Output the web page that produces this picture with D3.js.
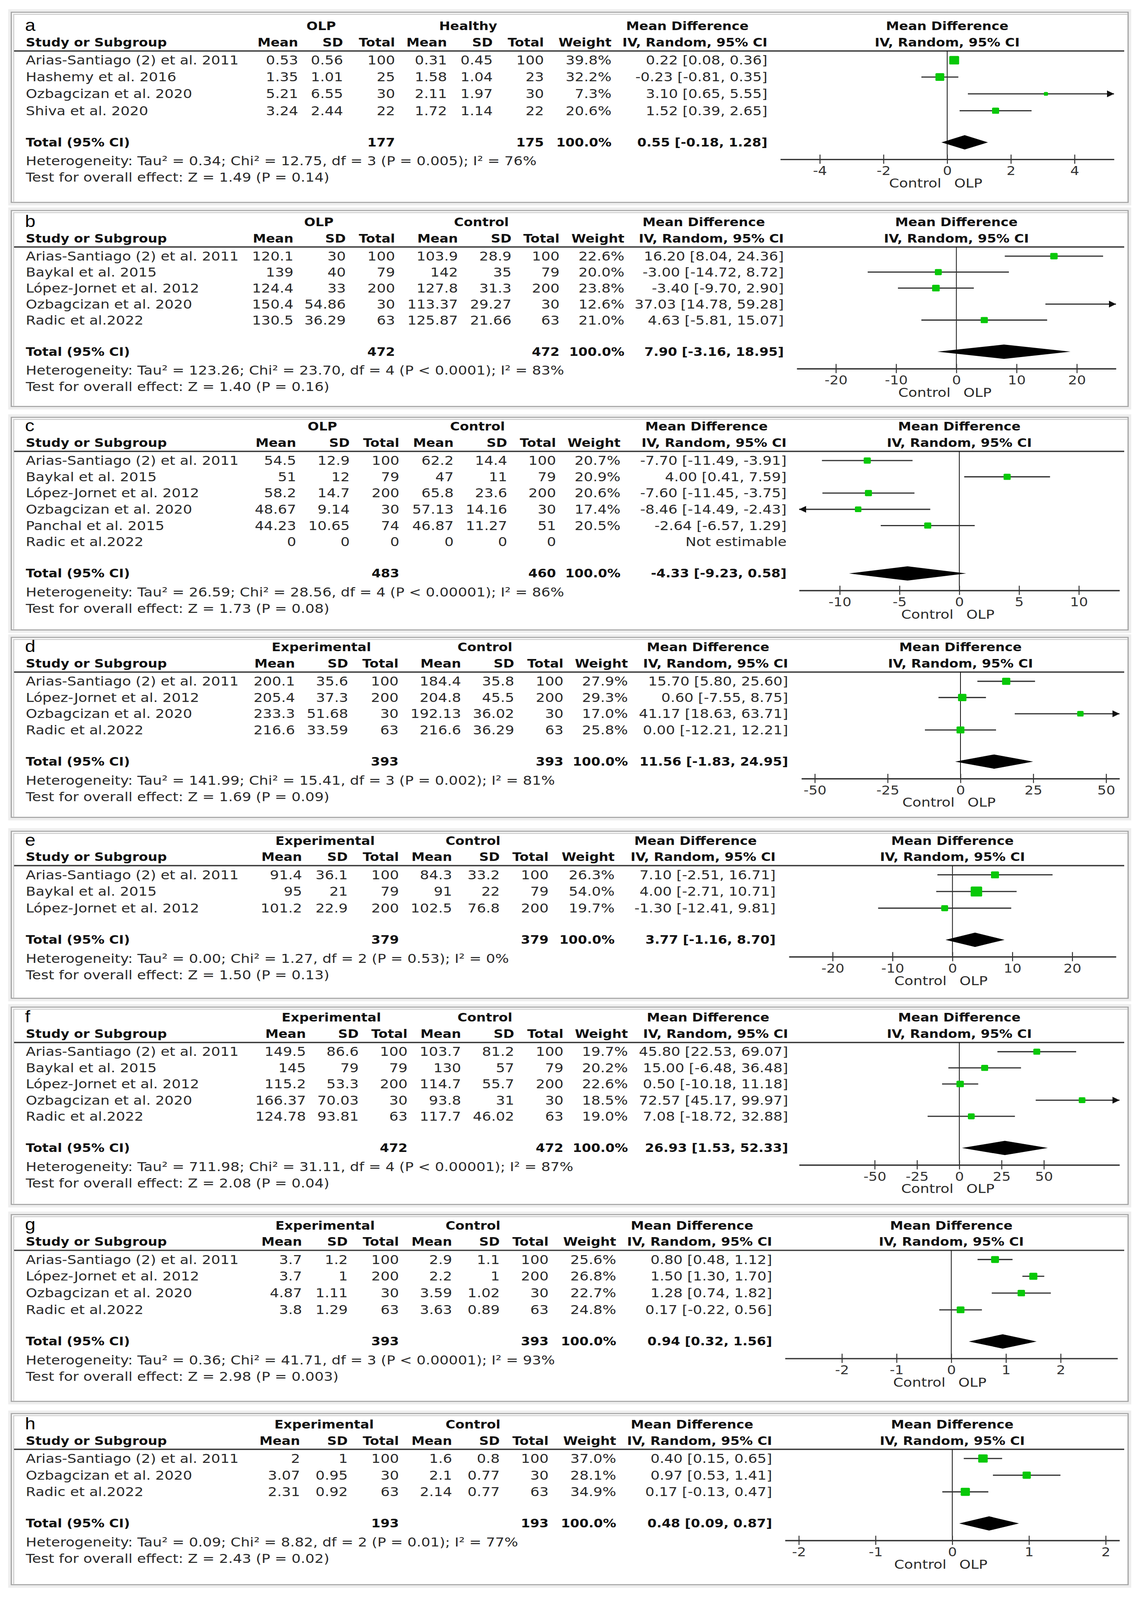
<!DOCTYPE html>
<html>
<head>
<meta charset="utf-8">
<script src="https://cdnjs.cloudflare.com/ajax/libs/d3/7.8.5/d3.min.js"></script>
<style>
  html, body { margin: 0; padding: 0; background: #fff; overflow: hidden; }
  svg { display: block; }
  svg text { font-family: 'DejaVu Sans', 'Open Sans', sans-serif; }
</style>
</head>
<body>
<svg id="chart"></svg>
<script>
// ─────────────────────────────────────────────
// Données (8 forest plots, a → h)
// stats : moyenne, SD, total (groupe 1) puis moyenne, SD, total (groupe 2)
// md : différence moyenne, borne basse, borne haute
// total : N1, N2, DM globale, IC bas, IC haut
// ─────────────────────────────────────────────

// a
const groupsA = ['OLP', 'Healthy'];
const namesA  = ['Arias-Santiago (2) et al. 2011', 'Hashemy et al. 2016', 'Ozbagcizan et al. 2020', 'Shiva et al. 2020'];
const statsA  = [[0.53, 0.56, 100, 0.31, 0.45, 100], [1.35, 1.01, 25, 1.58, 1.04, 23], [5.21, 6.55, 30, 2.11, 1.97, 30], [3.24, 2.44, 22, 1.72, 1.14, 22]];
const weightA = [39.8, 32.2, 7.3, 20.6];
const mdA     = [[0.22, 0.08, 0.36], [-0.23, -0.81, 0.35], [3.10, 0.65, 5.55], [1.52, 0.39, 2.65]];
const totalA  = [177, 175, 0.55, -0.18, 1.28];
const hetA    = 'Heterogeneity: Tau² = 0.34; Chi² = 12.75, df = 3 (P = 0.005); I² = 76%';
const testA   = 'Test for overall effect: Z = 1.49 (P = 0.14)';
const ticksA  = [-4, -2, 0, 2, 4];
const domainA = [-5.24, 5.24];

// b
const groupsB = ['OLP', 'Control'];
const namesB  = ['Arias-Santiago (2) et al. 2011', 'Baykal et al. 2015', 'López-Jornet et al. 2012', 'Ozbagcizan et al. 2020', 'Radic et al.2022'];
const statsB  = [[120.1, 30, 100, 103.9, 28.9, 100], [139, 40, 79, 142, 35, 79], [124.4, 33, 200, 127.8, 31.3, 200], [150.4, 54.86, 30, 113.37, 29.27, 30], [130.5, 36.29, 63, 125.87, 21.66, 63]];
const weightB = [22.6, 20.0, 23.8, 12.6, 21.0];
const mdB     = [[16.20, 8.04, 24.36], [-3.00, -14.72, 8.72], [-3.40, -9.70, 2.90], [37.03, 14.78, 59.28], [4.63, -5.81, 15.07]];
const totalB  = [472, 472, 7.90, -3.16, 18.95];
const hetB    = 'Heterogeneity: Tau² = 123.26; Chi² = 23.70, df = 4 (P < 0.0001); I² = 83%';
const testB   = 'Test for overall effect: Z = 1.40 (P = 0.16)';
const ticksB  = [-20, -10, 0, 10, 20];
const domainB = [-26.5, 26.5];

// c
const groupsC = ['OLP', 'Control'];
const namesC  = ['Arias-Santiago (2) et al. 2011', 'Baykal et al. 2015', 'López-Jornet et al. 2012', 'Ozbagcizan et al. 2020', 'Panchal et al. 2015', 'Radic et al.2022'];
const statsC  = [[54.5, 12.9, 100, 62.2, 14.4, 100], [51, 12, 79, 47, 11, 79], [58.2, 14.7, 200, 65.8, 23.6, 200], [48.67, 9.14, 30, 57.13, 14.16, 30], [44.23, 10.65, 74, 46.87, 11.27, 51], [0, 0, 0, 0, 0, 0]];
const weightC = [20.7, 20.9, 20.6, 17.4, 20.5, null];
const mdC     = [[-7.70, -11.49, -3.91], [4.00, 0.41, 7.59], [-7.60, -11.45, -3.75], [-8.46, -14.49, -2.43], [-2.64, -6.57, 1.29], null];
const totalC  = [483, 460, -4.33, -9.23, 0.58];
const hetC    = 'Heterogeneity: Tau² = 26.59; Chi² = 28.56, df = 4 (P < 0.00001); I² = 86%';
const testC   = 'Test for overall effect: Z = 1.73 (P = 0.08)';
const ticksC  = [-10, -5, 0, 5, 10];
const domainC = [-13.4, 13.4];

// d
const groupsD = ['Experimental', 'Control'];
const namesD  = ['Arias-Santiago (2) et al. 2011', 'López-Jornet et al. 2012', 'Ozbagcizan et al. 2020', 'Radic et al.2022'];
const statsD  = [[200.1, 35.6, 100, 184.4, 35.8, 100], [205.4, 37.3, 200, 204.8, 45.5, 200], [233.3, 51.68, 30, 192.13, 36.02, 30], [216.6, 33.59, 63, 216.6, 36.29, 63]];
const weightD = [27.9, 29.3, 17.0, 25.8];
const mdD     = [[15.70, 5.80, 25.60], [0.60, -7.55, 8.75], [41.17, 18.63, 63.71], [0.00, -12.21, 12.21]];
const totalD  = [393, 393, 11.56, -1.83, 24.95];
const hetD    = 'Heterogeneity: Tau² = 141.99; Chi² = 15.41, df = 3 (P = 0.002); I² = 81%';
const testD   = 'Test for overall effect: Z = 1.69 (P = 0.09)';
const ticksD  = [-50, -25, 0, 25, 50];
const domainD = [-54.6, 54.6];

// e
const groupsE = ['Experimental', 'Control'];
const namesE  = ['Arias-Santiago (2) et al. 2011', 'Baykal et al. 2015', 'López-Jornet et al. 2012'];
const statsE  = [[91.4, 36.1, 100, 84.3, 33.2, 100], [95, 21, 79, 91, 22, 79], [101.2, 22.9, 200, 102.5, 76.8, 200]];
const weightE = [26.3, 54.0, 19.7];
const mdE     = [[7.10, -2.51, 16.71], [4.00, -2.71, 10.71], [-1.30, -12.41, 9.81]];
const totalE  = [379, 379, 3.77, -1.16, 8.70];
const hetE    = 'Heterogeneity: Tau² = 0.00; Chi² = 1.27, df = 2 (P = 0.53); I² = 0%';
const testE   = 'Test for overall effect: Z = 1.50 (P = 0.13)';
const ticksE  = [-20, -10, 0, 10, 20];
const domainE = [-27.3, 27.3];

// f
const groupsF = ['Experimental', 'Control'];
const namesF  = ['Arias-Santiago (2) et al. 2011', 'Baykal et al. 2015', 'López-Jornet et al. 2012', 'Ozbagcizan et al. 2020', 'Radic et al.2022'];
const statsF  = [[149.5, 86.6, 100, 103.7, 81.2, 100], [145, 79, 79, 130, 57, 79], [115.2, 53.3, 200, 114.7, 55.7, 200], [166.37, 70.03, 30, 93.8, 31, 30], [124.78, 93.81, 63, 117.7, 46.02, 63]];
const weightF = [19.7, 20.2, 22.6, 18.5, 19.0];
const mdF     = [[45.80, 22.53, 69.07], [15.00, -6.48, 36.48], [0.50, -10.18, 11.18], [72.57, 45.17, 99.97], [7.08, -18.72, 32.88]];
const totalF  = [472, 472, 26.93, 1.53, 52.33];
const hetF    = 'Heterogeneity: Tau² = 711.98; Chi² = 31.11, df = 4 (P < 0.00001); I² = 87%';
const testF   = 'Test for overall effect: Z = 2.08 (P = 0.04)';
const ticksF  = [-50, -25, 0, 25, 50];
const domainF = [-94.7, 94.7];

// g
const groupsG = ['Experimental', 'Control'];
const namesG  = ['Arias-Santiago (2) et al. 2011', 'López-Jornet et al. 2012', 'Ozbagcizan et al. 2020', 'Radic et al.2022'];
const statsG  = [[3.7, 1.2, 100, 2.9, 1.1, 100], [3.7, 1, 200, 2.2, 1, 200], [4.87, 1.11, 30, 3.59, 1.02, 30], [3.8, 1.29, 63, 3.63, 0.89, 63]];
const weightG = [25.6, 26.8, 22.7, 24.8];
const mdG     = [[0.80, 0.48, 1.12], [1.50, 1.30, 1.70], [1.28, 0.74, 1.82], [0.17, -0.22, 0.56]];
const totalG  = [393, 393, 0.94, 0.32, 1.56];
const hetG    = 'Heterogeneity: Tau² = 0.36; Chi² = 41.71, df = 3 (P < 0.00001); I² = 93%';
const testG   = 'Test for overall effect: Z = 2.98 (P = 0.003)';
const ticksG  = [-2, -1, 0, 1, 2];
const domainG = [-3.04, 3.04];

// h
const groupsH = ['Experimental', 'Control'];
const namesH  = ['Arias-Santiago (2) et al. 2011', 'Ozbagcizan et al. 2020', 'Radic et al.2022'];
const statsH  = [[2, 1, 100, 1.6, 0.8, 100], [3.07, 0.95, 30, 2.1, 0.77, 30], [2.31, 0.92, 63, 2.14, 0.77, 63]];
const weightH = [37.0, 28.1, 34.9];
const mdH     = [[0.40, 0.15, 0.65], [0.97, 0.53, 1.41], [0.17, -0.13, 0.47]];
const totalH  = [193, 193, 0.48, 0.09, 0.87];
const hetH    = 'Heterogeneity: Tau² = 0.09; Chi² = 8.82, df = 2 (P = 0.01); I² = 77%';
const testH   = 'Test for overall effect: Z = 2.43 (P = 0.02)';
const ticksH  = [-2, -1, 0, 1, 2];
const domainH = [-2.18, 2.18];

const panels = [
  { id: 'a', groups: groupsA, names: namesA, stats: statsA, weight: weightA, md: mdA, total: totalA, het: hetA, test: testA, ticks: ticksA, domain: domainA },
  { id: 'b', groups: groupsB, names: namesB, stats: statsB, weight: weightB, md: mdB, total: totalB, het: hetB, test: testB, ticks: ticksB, domain: domainB },
  { id: 'c', groups: groupsC, names: namesC, stats: statsC, weight: weightC, md: mdC, total: totalC, het: hetC, test: testC, ticks: ticksC, domain: domainC },
  { id: 'd', groups: groupsD, names: namesD, stats: statsD, weight: weightD, md: mdD, total: totalD, het: hetD, test: testD, ticks: ticksD, domain: domainD },
  { id: 'e', groups: groupsE, names: namesE, stats: statsE, weight: weightE, md: mdE, total: totalE, het: hetE, test: testE, ticks: ticksE, domain: domainE },
  { id: 'f', groups: groupsF, names: namesF, stats: statsF, weight: weightF, md: mdF, total: totalF, het: hetF, test: testF, ticks: ticksF, domain: domainF },
  { id: 'g', groups: groupsG, names: namesG, stats: statsG, weight: weightG, md: mdG, total: totalG, het: hetG, test: testG, ticks: ticksG, domain: domainG },
  { id: 'h', groups: groupsH, names: namesH, stats: statsH, weight: weightH, md: mdH, total: totalH, het: hetH, test: testH, ticks: ticksH, domain: domainH }
];

// ─────────────────────────────────────────────
// Mise en page (pixels, repère 2920 x 4704 de la figure)
// cols : bords droits des colonnes Mean, SD, Total, Mean, SD, Total, Weight, IC
// ─────────────────────────────────────────────
const layouts = [
  { top: 36,   bottom: 595,  row0: 177,  step: 49.5, cols: [763, 878, 1011, 1144, 1261, 1392, 1565, 1964], fx: [1997, 2851] },
  { top: 619,  bottom: 1195, row0: 753,  step: 47,   cols: [751, 885, 1011, 1172, 1309, 1432, 1598, 2006], fx: [2039, 2856] },
  { top: 1227, bottom: 1852, row0: 1354, step: 47.8, cols: [758, 895, 1022, 1161, 1298, 1423, 1588, 2013], fx: [2045, 2865] },
  { top: 1874, bottom: 2403, row0: 2003, step: 47.7, cols: [755, 891, 1020, 1180, 1316, 1442, 1607, 2017], fx: [2051, 2865] },
  { top: 2444, bottom: 2935, row0: 2572, step: 49,   cols: [773, 890, 1021, 1157, 1279, 1404, 1573, 1985], fx: [2019, 2856] },
  { top: 2961, bottom: 3541, row0: 3092, step: 47.5, cols: [783, 918, 1043, 1180, 1316, 1442, 1607, 2017], fx: [2045, 2865] },
  { top: 3571, bottom: 4120, row0: 3703, step: 49.3, cols: [773, 890, 1021, 1157, 1279, 1404, 1577, 1976], fx: [2009, 2860] },
  { top: 4156, bottom: 4659, row0: 4288, step: 49,   cols: [768, 890, 1021, 1157, 1279, 1404, 1577, 1976], fx: [2009, 2865] }
];

const W = 2920, H = 4704;
const FS     = 37;     // texte courant
const FSB    = 34;     // en-têtes en gras
const GREEN  = '#08c808';
const BOX_L  = 29, BOX_R = 2887;
const sqSize = d3.scaleSqrt().domain([0, 100]).range([0, 40]);

// la fenêtre de rendu est moins haute que la figure : on remplit la fenêtre
const svg = d3.select('#chart')
  .attr('width', window.innerWidth || W)
  .attr('height', window.innerHeight || H)
  .attr('viewBox', `0 0 ${W} ${H}`)
  .attr('preserveAspectRatio', 'none');

const fmt2 = v => v.toFixed(2);
const ciText = (m, lo, hi) => `${fmt2(m)} [${fmt2(lo)}, ${fmt2(hi)}]`;

function txt(g, x, y, s, opts = {}) {
  return g.append('text')
    .attr('x', x).attr('y', y)
    .attr('dominant-baseline', 'central')
    .attr('text-anchor', opts.anchor || 'start')
    .attr('font-size', opts.size || (opts.bold ? FSB : FS))
    .attr('font-weight', opts.bold ? 'bold' : 'normal')
    .attr('fill', opts.fill || (opts.bold ? '#111' : '#2a2a2a'))
    .text(s);
}

function drawPanel(p, L) {
  const g = svg.append('g');
  const c = L.cols;

  // Cadre (double filet gris façon capture d'écran)
  g.append('rect').attr('x', BOX_L - 8).attr('y', L.top - 9)
    .attr('width', BOX_R - BOX_L + 16).attr('height', L.bottom - L.top + 18).attr('fill', '#eeeeee');
  g.append('rect').attr('x', BOX_L).attr('y', L.top)
    .attr('width', BOX_R - BOX_L).attr('height', L.bottom - L.top)
    .attr('fill', '#fff').attr('stroke', '#a2a2a2').attr('stroke-width', 3);
  g.append('path')
    .attr('d', `M${BOX_L + 6},${L.bottom - 2}V${L.top + 6}H${BOX_R - 2}`)
    .attr('fill', 'none').attr('stroke', '#cfcfcf').attr('stroke-width', 3);

  const rowY  = i => L.row0 + i * L.step;
  const last  = rowY(p.names.length - 1);
  const yTot  = last + 93;
  const yHet  = yTot + 55;
  const yTest = yHet + 48;
  const yAx   = yTot + 50;
  const yGrp  = L.row0 - 100;
  const yCol  = L.row0 - 52;

  const x = d3.scaleLinear().domain(p.domain).range(L.fx);
  const x0 = x(0);

  // Lettre du panneau
  g.append('text').attr('x', 64).attr('y', L.row0 - 86)
    .attr('font-size', 48).attr('fill', '#000')
    .style('font-family', "'Liberation Sans', Arial, sans-serif")
    .text(p.id);

  // En-têtes
  txt(g, (c[0] + c[2]) / 2 - 65, yGrp, p.groups[0], { bold: true, anchor: 'middle' });
  txt(g, (c[3] + c[5]) / 2 - 70, yGrp, p.groups[1], { bold: true, anchor: 'middle' });
  txt(g, c[7] - 205, yGrp, 'Mean Difference', { bold: true, anchor: 'middle' });
  txt(g, x0, yGrp, 'Mean Difference', { bold: true, anchor: 'middle' });

  txt(g, 66, yCol, 'Study or Subgroup', { bold: true });
  ['Mean', 'SD', 'Total', 'Mean', 'SD', 'Total', 'Weight', 'IV, Random, 95% CI']
    .forEach((h, i) => txt(g, c[i], yCol, h, { bold: true, anchor: 'end' }));
  txt(g, x0, yCol, 'IV, Random, 95% CI', { bold: true, anchor: 'middle' });

  g.append('line').attr('x1', BOX_L + 7).attr('x2', BOX_R - 10)
    .attr('y1', L.row0 - 27).attr('y2', L.row0 - 27)
    .attr('stroke', '#3a3a3a').attr('stroke-width', 4);

  // Lignes d'études
  p.names.forEach((name, i) => {
    const y = rowY(i);
    txt(g, 66, y, name);
    p.stats[i].forEach((v, j) => txt(g, c[j], y, String(v), { anchor: 'end' }));
    if (p.weight[i] != null) txt(g, c[6], y, p.weight[i].toFixed(1) + '%', { anchor: 'end' });
    const m = p.md[i];
    txt(g, c[7], y, m ? ciText(m[0], m[1], m[2]) : 'Not estimable', { anchor: 'end' });
  });

  // Total
  txt(g, 66, yTot, 'Total (95% CI)', { bold: true });
  txt(g, c[2], yTot, String(p.total[0]), { bold: true, anchor: 'end' });
  txt(g, c[5], yTot, String(p.total[1]), { bold: true, anchor: 'end' });
  txt(g, c[6], yTot, '100.0%', { bold: true, anchor: 'end' });
  txt(g, c[7], yTot, ciText(p.total[2], p.total[3], p.total[4]), { bold: true, anchor: 'end' });

  txt(g, 66, yHet, p.het);
  txt(g, 66, yTest, p.test);

  // ── Forest plot ──
  const [d0, d1] = p.domain;
  g.append('line').attr('x1', x0).attr('x2', x0)
    .attr('y1', L.row0 - 27).attr('y2', yAx)
    .attr('stroke', '#111').attr('stroke-width', 2);

  p.md.forEach((m, i) => {
    if (!m) return;
    const y = rowY(i);
    const lo = Math.max(m[1], d0), hi = Math.min(m[2], d1);
    g.append('line').attr('x1', x(lo)).attr('x2', x(hi)).attr('y1', y).attr('y2', y)
      .attr('stroke', '#333').attr('stroke-width', 3.5);
    if (m[2] > d1) {
      const xe = x(d1);
      g.append('path').attr('d', `M${xe},${y}L${xe - 18},${y - 10}L${xe - 18},${y + 10}Z`).attr('fill', '#111');
    }
    if (m[1] < d0) {
      const xs = x(d0);
      g.append('path').attr('d', `M${xs},${y}L${xs + 18},${y - 10}L${xs + 18},${y + 10}Z`).attr('fill', '#111');
    }
    if (m[0] >= d0 && m[0] <= d1) {
      const s = sqSize(p.weight[i]);
      g.append('rect').attr('x', x(m[0]) - s / 2).attr('y', y - s / 2)
        .attr('width', s).attr('height', s).attr('rx', 3).attr('fill', GREEN);
    }
  });

  // Diamant global
  const [tm, tl, th] = p.total.slice(2);
  g.append('path')
    .attr('d', `M${x(tl)},${yTot}L${x(tm)},${yTot - 21}L${x(th)},${yTot}L${x(tm)},${yTot + 21}Z`)
    .attr('fill', '#000');

  // Axe
  const ax = g.append('g').attr('transform', `translate(0,${yAx})`)
    .call(d3.axisBottom(x).tickValues(p.ticks).tickSizeInner(13).tickSizeOuter(0)
      .tickPadding(8).tickFormat(d => String(d)));
  ax.attr('font-size', 36);
  ax.select('.domain').attr('stroke', '#333').attr('stroke-width', 4);
  ax.selectAll('.tick line').attr('y1', -14).attr('y2', 13).attr('stroke', '#333').attr('stroke-width', 2.5);
  ax.selectAll('.tick text').attr('fill', '#333');

  txt(g, x0 - 15, yAx + 70, 'Control', { anchor: 'end' });
  txt(g, x0 + 18, yAx + 70, 'OLP');
}

panels.forEach((p, i) => drawPanel(p, layouts[i]));
</script>
</body>
</html>
